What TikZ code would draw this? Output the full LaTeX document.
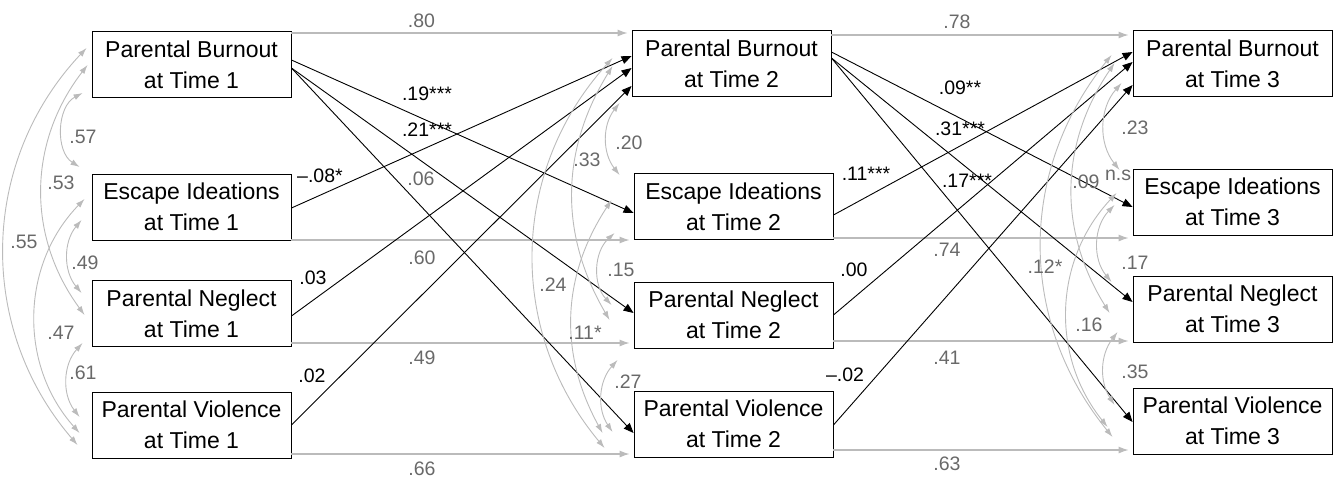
\documentclass[tikz,border=0pt]{standalone}
\usepackage{fontspec}
\setmainfont{Liberation Sans}
\usepackage{tikz}
\usetikzlibrary{arrows.meta}
\definecolor{pathgray}{HTML}{BBBBBB}
\definecolor{labgray}{HTML}{696969}
\tikzset{
  var/.style={draw, line width=0.9pt, minimum width=199pt, minimum height=66pt, align=center, inner sep=0pt, font=\fontsize{23}{31}\selectfont},
  stab/.style={draw=pathgray, line width=1.1pt, -{Latex[length=10pt,width=7pt]}, shorten >=4pt},
  cross/.style={line width=0.9pt, -{Triangle[length=10pt,width=8pt]}},
  cov/.style={draw=pathgray, line width=0.9pt, {Latex[length=9pt,width=6pt]}-{Latex[length=9pt,width=6pt]}},
  glab/.style={text=labgray, font=\fontsize{19.5}{19.5}\selectfont, inner sep=0pt},
  blab/.style={text=black, font=\fontsize{19.5}{19.5}\selectfont, inner sep=0pt}
}
\begin{document}
\begin{tikzpicture}[x=1pt,y=1pt]
\useasboundingbox (0,0) rectangle (1335,-482);
\node[var] (b1) at (191.5,-64.5) {Parental Burnout\\at Time 1};
\node[var] (e1) at (191.5,-207) {Escape Ideations\\at Time 1};
\node[var] (n1) at (191.5,-313.5) {Parental Neglect\\at Time 1};
\node[var] (v1) at (191.5,-425) {Parental Violence\\at Time 1};
\node[var] (b2) at (731.5,-63.5) {Parental Burnout\\at Time 2};
\node[var] (e2) at (733.5,-206.5) {Escape Ideations\\at Time 2};
\node[var] (n2) at (733.5,-315) {Parental Neglect\\at Time 2};
\node[var] (v2) at (733.5,-424) {Parental Violence\\at Time 2};
\node[var] (b3) at (1232.5,-63.5) {Parental Burnout\\at Time 3};
\node[var] (e3) at (1232.5,-202) {Escape Ideations\\at Time 3};
\node[var] (n3) at (1232.5,-309) {Parental Neglect\\at Time 3};
\node[var] (v3) at (1232.5,-421) {Parental Violence\\at Time 3};

\draw[stab] ([yshift=31.5pt]b1.east) -- ([yshift=30.5pt]b2.west);
\draw[stab] ([yshift=-33pt]e1.east) -- ([yshift=-33.5pt]e2.west);
\draw[stab] ([yshift=-29.5pt]n1.east) -- ([yshift=-28pt]n2.west);
\draw[stab] ([yshift=-29pt]v1.east) -- ([yshift=-30pt]v2.west);
\draw[stab] ([yshift=28.5pt]b2.east) -- ([yshift=28.5pt]b3.west);
\draw[stab] ([yshift=-31.5pt]e2.east) -- ([yshift=-36pt]e3.west);
\draw[stab] ([yshift=-26pt]n2.east) -- ([yshift=-32pt]n3.west);
\draw[stab] ([yshift=-26pt]v2.east) -- ([yshift=-29pt]v3.west);

\draw[cross] ([yshift=4.5pt]b1.east) -- ([yshift=-6.5pt]e2.west);
\draw[cross] ([yshift=-3.5pt]b1.east) -- ([yshift=2pt]n2.west);
\draw[cross] ([yshift=-3.5pt]b1.east) -- ([yshift=-9pt]v2.west);
\draw[cross] ([yshift=-1pt]e1.east) -- ([yshift=7.5pt]b2.west);
\draw[cross] ([yshift=-2.5pt]n1.east) -- ([yshift=-4.5pt]b2.west);
\draw[cross] (v1.east) -- ([yshift=-22.5pt]b2.west);
\draw[cross] ([yshift=11.5pt]b2.east) -- ([yshift=-5pt]e3.west);
\draw[cross] ([yshift=5.5pt]b2.east) -- ([yshift=7pt]n3.west);
\draw[cross] ([yshift=5.5pt]b2.east) -- ([yshift=-1pt]v3.west);
\draw[cross] ([yshift=-8.5pt]e2.east) -- ([yshift=11.5pt]b3.west);
\draw[cross] (n2.east) -- ([yshift=1.5pt]b3.west);
\draw[cross] ([yshift=-1pt]v2.east) -- ([yshift=-21.5pt]b3.west);

\draw[cov] ([xshift=-9pt,yshift=-28.5pt]b1.west) to[bend right=60] ([xshift=-12pt,yshift=40pt]e1.west);
\draw[cov] ([xshift=-4pt,yshift=-0.5pt]b1.west) to[bend right=37] ([xshift=-7pt,yshift=-1.5pt]n1.west);
\draw[cov] ([xshift=-5pt,yshift=16.5pt]b1.west) to[bend right=42] ([xshift=-14pt,yshift=-20pt]v1.west);
\draw[cov] ([xshift=-10pt,yshift=-13pt]e1.west) to[bend right=40] ([xshift=-10pt,yshift=20.5pt]n1.west);
\draw[cov] ([xshift=-7pt,yshift=8pt]e1.west) to[bend right=43] ([xshift=-12pt,yshift=-8pt]v1.west);
\draw[cov] ([xshift=-9pt,yshift=-29.5pt]n1.west) to[bend right=40] ([xshift=-12pt,yshift=8pt]v1.west);

\draw[cov] ([xshift=-12pt,yshift=-39.5pt]b2.west) to[bend right=38] ([xshift=-14pt,yshift=31.5pt]e2.west);
\draw[cov] ([xshift=-19pt,yshift=-2.5pt]b2.west) to[bend right=31] ([xshift=-24pt,yshift=-5pt]n2.west);
\draw[cov] ([xshift=-19pt,yshift=5.5pt]b2.west) to[bend right=41] ([xshift=-29pt,yshift=-24pt]v2.west);
\draw[cov] ([xshift=-19pt,yshift=-26.5pt]e2.west) to[bend right=45] ([xshift=-22pt,yshift=10pt]n2.west);
\draw[cov] ([xshift=-22pt,yshift=6.5pt]e2.west) to[bend right=31] ([xshift=-31pt,yshift=-9pt]v2.west);
\draw[cov] ([xshift=-16pt,yshift=-45pt]n2.west) to[bend right=38] ([xshift=-21pt,yshift=-8pt]v2.west);

\draw[cov] ([xshift=-11pt,yshift=-19.5pt]b3.west) to[bend right=40] ([xshift=-13pt,yshift=32pt]e3.west);
\draw[cov] ([xshift=-18pt,yshift=0.5pt]b3.west) to[bend right=33] ([xshift=-23pt,yshift=-4pt]n3.west);
\draw[cov] ([xshift=-21pt,yshift=8.5pt]b3.west) to[bend right=39] ([xshift=-20pt,yshift=-16pt]v3.west);
\draw[cov] ([xshift=-18pt,yshift=-3pt]e3.west) to[bend right=42] ([xshift=-21pt,yshift=27pt]n3.west);
\draw[cov] ([xshift=-16pt,yshift=9pt]e3.west) to[bend right=41] ([xshift=-25pt,yshift=-6pt]v3.west);
\draw[cov] ([xshift=-15pt,yshift=-23pt]n3.west) to[bend right=35] ([xshift=-18pt,yshift=16pt]v3.west);

\node[glab] (s80) at (421.5,-21) {.80};
\node[glab] (s06) at (421,-179) {.06};
\node[glab] (s60) at (422,-258) {.60};
\node[glab] (s49) at (422,-358) {.49};
\node[glab] (s66) at (422,-469) {.66};
\node[glab] (s78) at (957,-22) {.78};
\node[glab] (s74) at (947,-250) {.74};
\node[glab] (s41) at (947,-358) {.41};
\node[glab] (s63) at (947,-464) {.63};

\node[glab] (c57) at (83,-137) {.57};
\node[glab] (c53) at (61,-183) {.53};
\node[glab] (c55) at (24,-242) {.55};
\node[glab] (c49) at (85,-263) {.49};
\node[glab] (c47) at (61,-333) {.47};
\node[glab] (c61) at (83,-373) {.61};
\node[glab] (c20) at (629,-143) {.20};
\node[glab] (c33) at (587,-160) {.33};
\node[glab] (c15) at (621,-270) {.15};
\node[glab] (c24) at (553,-285) {.24};
\node[glab] (c11) at (585,-333) {.11*};
\node[glab] (c27) at (628,-382) {.27};
\node[glab] (c23) at (1135,-128) {.23};
\node[glab] (c09) at (1086,-182) {.09};
\node[glab] (cns) at (1118,-175) {n.s};
\node[glab] (c12) at (1045,-267) {.12*};
\node[glab] (c17) at (1135,-263) {.17};
\node[glab] (c16) at (1089,-325) {.16};
\node[glab] (c35) at (1135,-372) {.35};

\node[blab] (x19) at (427,-94) {.19***};
\node[blab] (x21) at (427,-130) {.21***};
\node[blab] (x08) at (320,-176) {--.08*};
\node[blab] (x03) at (313,-278) {.03};
\node[blab] (x02) at (312,-376) {.02};
\node[blab] (y09) at (960,-88) {.09**};
\node[blab] (y31) at (960,-129) {.31***};
\node[blab] (y17) at (967,-181) {.17***};
\node[blab] (y11) at (866,-174) {.11***};
\node[blab] (y00) at (854,-270) {.00};
\node[blab] (y02) at (845,-375) {--.02};
\end{tikzpicture}
\end{document}
